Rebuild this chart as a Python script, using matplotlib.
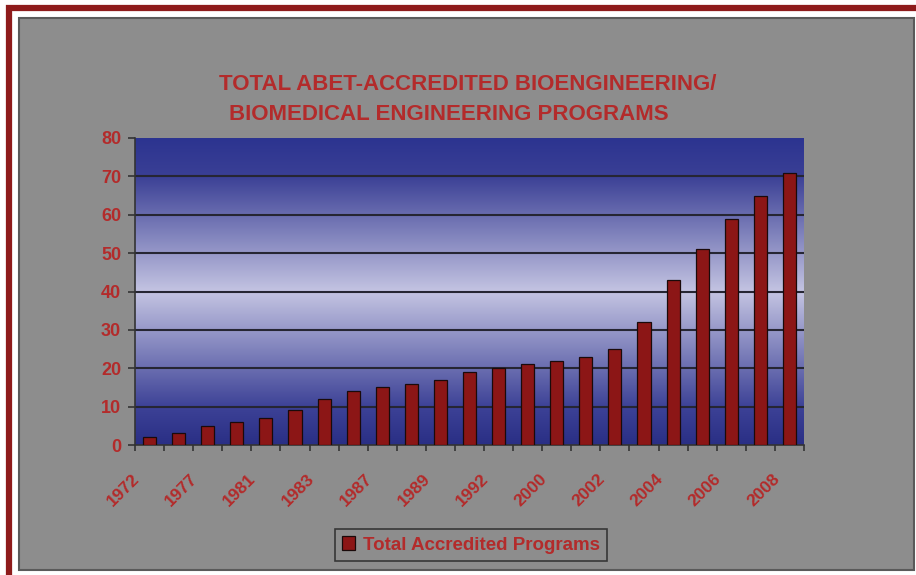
import numpy as np
import matplotlib
matplotlib.use("Agg")
import matplotlib.pyplot as plt
from matplotlib.patches import Rectangle
from matplotlib.colors import LinearSegmentedColormap
from matplotlib.transforms import ScaledTranslation

plt.rcParams['font.family'] = ['Liberation Sans', 'DejaVu Sans']

# ---- data ----
years = ['1972', '', '1977', '', '1981', '', '1983', '', '1987', '', '1989', '',
         '1992', '', '2000', '', '2002', '', '2004', '', '2006', '', '2008']
programs = [2, 3, 5, 6, 7, 9, 12, 14, 15, 16, 17, 19,
            20, 21, 22, 23, 25, 32, 43, 51, 59, 65, 71]
y_ticks = [0, 10, 20, 30, 40, 50, 60, 70, 80]

title_1 = "TOTAL ABET-ACCREDITED BIOENGINEERING/"
title_2 = "BIOMEDICAL ENGINEERING PROGRAMS"
legend_label = "Total Accredited Programs"

RED_TXT = '#b32b2b'
BAR_RED = '#8c1616'
W, H = 916, 575

fig = plt.figure(figsize=(W / 100, H / 100), dpi=100)
fig.patch.set_facecolor('white')

# red outer frame and gray panel (behind the axes)
fig.patches.append(Rectangle((8.5 / W, -0.2), 1.2, 1.2 - 7.5 / H,
                             transform=fig.transFigure, fill=False,
                             edgecolor='#8e1b1b', lw=4.5, zorder=-3))
fig.patches.append(Rectangle((19 / W, 5 / H), 895 / W, (570 - 18) / H,
                             transform=fig.transFigure, facecolor='#8d8d8d',
                             edgecolor='#5a5a5a', lw=1.5, zorder=-2))

ax = fig.add_axes([135 / W, 1 - 445 / H, 669 / W, 307 / H])
ax.set_facecolor('none')

n = len(programs)
x = np.arange(n)
ax.set_xlim(-0.5, n - 0.5)
ax.set_ylim(0, 80)

# vertical gradient: dark blue at top and bottom, pale lavender in the middle
cmap = LinearSegmentedColormap.from_list(
    'bg', [(0.0, '#2c3490'), (0.12, '#3a3f95'), (0.5, '#c4c4e2'),
           (0.88, '#3c4196'), (1.0, '#2a2f85')])
grad = np.linspace(0, 1, 256).reshape(-1, 1)
ax.imshow(grad, extent=[-0.5, n - 0.5, 0, 80], aspect='auto', cmap=cmap,
          origin='upper', zorder=0)

for yv in y_ticks[1:-1]:
    ax.axhline(yv, color='#262633', lw=1.5, zorder=1)

bars = ax.bar(x, programs, width=0.45, color=BAR_RED, edgecolor='#1a0a0a',
              lw=0.9, zorder=3, label=legend_label)

for side in ['top', 'right']:
    ax.spines[side].set_visible(False)
for side in ['left', 'bottom']:
    ax.spines[side].set_color('#333333')
    ax.spines[side].set_linewidth(1.2)

ax.set_yticks(y_ticks)
ax.set_yticklabels([str(v) for v in y_ticks], color=RED_TXT,
                   fontsize=13, fontweight='bold')
ax.tick_params(axis='y', length=5, width=1.2, color='#333333', pad=5)

ax.set_xticks(x[::2])
ax.set_xticklabels(years[::2], rotation=45, ha='right', va='top',
                   color=RED_TXT, fontsize=12.5, fontweight='bold')
ax.set_xticks(np.arange(n + 1) - 0.5, minor=True)
ax.tick_params(axis='x', which='major', length=0, pad=19)
ax.tick_params(axis='x', which='minor', length=4, width=1.2, color='#333333')
shift = ScaledTranslation(-7 / 100, 0, fig.dpi_scale_trans)
for lbl in ax.get_xticklabels():
    lbl.set_transform(lbl.get_transform() + shift)

fig.text(468 / W, 1 - 85 / H, title_1, ha='center', va='center',
         color=RED_TXT, fontsize=16, fontweight='bold')
fig.text(449 / W, 1 - 114 / H, title_2, ha='center', va='center',
         color=RED_TXT, fontsize=16, fontweight='bold')

leg = fig.legend(handles=[bars], labels=[legend_label], loc='center',
                 bbox_to_anchor=(471 / W, 1 - 545 / H), frameon=True,
                 fancybox=False, handlelength=0.7, handleheight=0.7,
                 handletextpad=0.4, borderpad=0.4, fontsize=13.5)
leg.get_frame().set_facecolor('#8d8d8d')
leg.get_frame().set_edgecolor('#222222')
leg.get_frame().set_linewidth(1.2)
for t in leg.get_texts():
    t.set_color(RED_TXT)
    t.set_fontweight('bold')

fig.savefig('out.png', dpi=100)
